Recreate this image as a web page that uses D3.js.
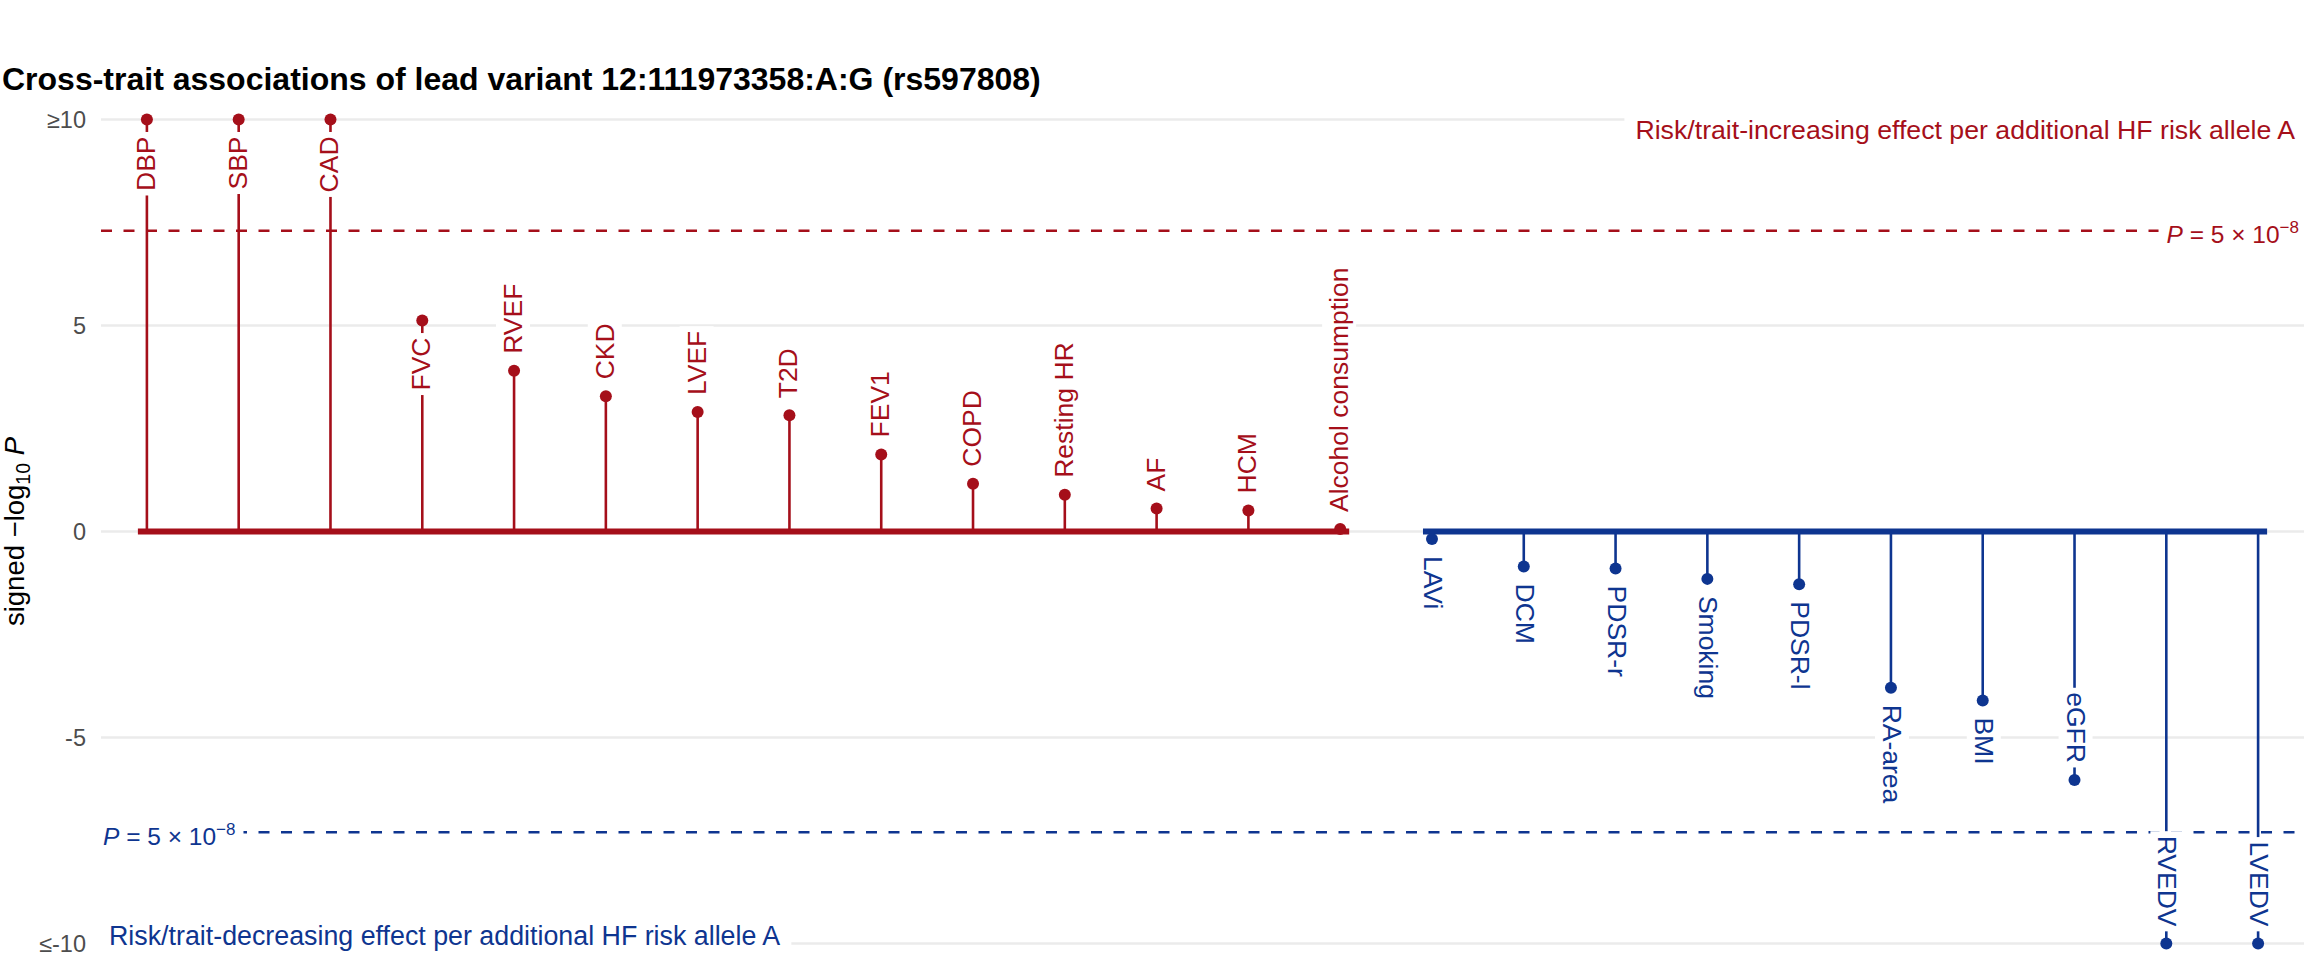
<!DOCTYPE html>
<html>
<head>
<meta charset="utf-8">
<script src="https://cdn.jsdelivr.net/npm/d3@7"></script>
<style>
  html, body { margin: 0; padding: 0; background: #ffffff; }
  svg { display: block; font-family: "Liberation Sans", Arial, Helvetica, sans-serif; }
</style>
</head>
<body>
<svg id="chart" width="2304" height="960"></svg>
<script>
// ---------------- data ----------------
const titleText = "Cross-trait associations of lead variant 12:111973358:A:G (rs597808)";
const categories = ["DBP","SBP","CAD","FVC","RVEF","CKD","LVEF","T2D","FEV1","COPD","Resting HR","AF","HCM","Alcohol consumption",
                    "LAVi","DCM","PDSR-r","Smoking","PDSR-l","RA-area","BMI","eGFR","RVEDV","LVEDV"];
// signed -log10 P, capped at +/-10
const signedLogP = [10, 10, 10, 5.12, 3.9, 3.28, 2.9, 2.82, 1.87, 1.16, 0.89, 0.56, 0.51, 0.06,
                    -0.18, -0.85, -0.9, -1.15, -1.28, -3.79, -4.1, -6.03, -10, -10];
const yTickValues = [-10, -5, 0, 5, 10];
const yTickLabels = ["≤-10", "-5", "0", "5", "≥10"];
const gwsP = 5e-8;
const upText = "Risk/trait-increasing effect per additional HF risk allele A";
const downText = "Risk/trait-decreasing effect per additional HF risk allele A";

// ---------------- setup ----------------
const RED = "#A50F1A", BLUE = "#0E3590";
const W = 2304, H = 960;
const svg = d3.select("#chart");
const panel = {left: 101, right: 2304, top: 103, bottom: 960};

const x = d3.scalePoint().domain(categories).range([panel.left, panel.right]).padding(0.5);
const y = d3.scaleLinear().domain([-10.4, 10.4]).range([panel.bottom, panel.top]);
const thr = -Math.log10(gwsP);
const data = categories.map((c, i) => ({cat: c, v: signedLogP[i]}));
const col = d => d.v >= 0 ? RED : BLUE;

// gridlines
svg.append("g").selectAll("line").data(yTickValues).join("line")
  .attr("x1", panel.left).attr("x2", panel.right)
  .attr("y1", d => y(d)).attr("y2", d => y(d))
  .attr("stroke", "#EBEBEB").attr("stroke-width", 2.4);

// y axis tick labels
const yAxis = d3.axisLeft(y).tickValues(yTickValues)
  .tickFormat((d, i) => yTickLabels[i]).tickSize(0).tickPadding(15);
const ag = svg.append("g").attr("transform", `translate(${panel.left},0)`).call(yAxis);
ag.select(".domain").remove();
ag.selectAll("text").attr("font-size", 23.5).attr("fill", "#4D4D4D")
  .attr("font-family", "Liberation Sans, Arial, sans-serif");

// threshold dashed lines
[[thr, RED], [-thr, BLUE]].forEach(([v, c]) => {
  svg.append("line").attr("x1", panel.left).attr("x2", panel.right)
    .attr("y1", y(v)).attr("y2", y(v))
    .attr("stroke", c).attr("stroke-width", 2.6).attr("stroke-dasharray", "11,11.5");
});

// stems
svg.append("g").selectAll("line").data(data).join("line")
  .attr("x1", d => x(d.cat)).attr("x2", d => x(d.cat))
  .attr("y1", y(0)).attr("y2", d => y(d.v))
  .attr("stroke", col).attr("stroke-width", 2.6);

// base lines (one per sign)
const pos = data.filter(d => d.v >= 0), neg = data.filter(d => d.v < 0);
[[pos, RED], [neg, BLUE]].forEach(([arr, c]) => {
  svg.append("line")
    .attr("x1", x(arr[0].cat) - 9).attr("x2", x(arr[arr.length - 1].cat) + 9)
    .attr("y1", y(0)).attr("y2", y(0))
    .attr("stroke", c).attr("stroke-width", 6);
});

// points
svg.append("g").selectAll("circle").data(data).join("circle")
  .attr("cx", d => x(d.cat)).attr("cy", d => y(d.v)).attr("r", 6)
  .attr("fill", col);

// point labels with white boxes
const off = 17, fs = 26.5;
data.forEach(d => {
  const big = Math.abs(d.v) >= 5;
  let ay, rot, anchor;
  if (d.v >= 0) {
    rot = -90;
    if (big) { ay = y(d.v) + off; anchor = "end"; } else { ay = y(d.v) - off; anchor = "start"; }
  } else {
    rot = 90;
    if (big) { ay = y(d.v) - off; anchor = "end"; } else { ay = y(d.v) + off; anchor = "start"; }
  }
  const g = svg.append("g").attr("transform", `translate(${x(d.cat)},${ay}) rotate(${rot})`);
  const rect = g.append("rect").attr("fill", "#ffffff");
  const t = g.append("text").attr("text-anchor", anchor).attr("dy", "0.3em")
    .attr("font-size", fs).attr("fill", col(d)).text(d.cat);
  const bb = t.node().getBBox();
  rect.attr("x", bb.x - 4.5).attr("y", bb.y - 2).attr("width", bb.width + 9).attr("height", bb.height + 4);
});

// direction annotations
function boxedText(tx, ty, anchor, txt, color, size, padX) {
  const g = svg.append("g");
  const rect = g.append("rect").attr("fill", "#ffffff");
  const t = g.append("text").attr("x", tx).attr("y", ty).attr("text-anchor", anchor)
    .attr("font-size", size).attr("fill", color).text(txt);
  const bb = t.node().getBBox();
  rect.attr("x", bb.x - padX).attr("y", bb.y - 2).attr("width", bb.width + 2 * padX).attr("height", bb.height + 4);
  return t;
}
boxedText(2295, y(10) + 20, "end", upText, RED, 26.7, 11);
boxedText(109, y(-10) + 1, "start", downText, BLUE, 26.8, 11);

// P = 5 x 10^-8 labels
function pLabel(tx, ty, anchor, color) {
  const g = svg.append("g");
  const rect = g.append("rect").attr("fill", "#ffffff");
  const t = g.append("text").attr("x", tx).attr("y", ty).attr("text-anchor", anchor)
    .attr("font-size", 24.5).attr("fill", color);
  t.append("tspan").attr("font-style", "italic").text("P");
  t.append("tspan").text(" = 5 × 10");
  t.append("tspan").attr("dy", -10).attr("font-size", 17).text("−8");
  const bb = t.node().getBBox();
  rect.attr("x", bb.x - 8).attr("y", bb.y).attr("width", bb.width + 16).attr("height", bb.height);
}
pLabel(2299, y(thr) + 12, "end", RED);
pLabel(103, y(-thr) + 13, "start", BLUE);

// y axis title
const yt = svg.append("text").attr("transform", `translate(24,${(panel.top + panel.bottom) / 2}) rotate(-90)`)
  .attr("text-anchor", "middle").attr("font-size", 27.5).attr("fill", "#000000");
yt.append("tspan").text("signed  −log");
yt.append("tspan").attr("font-size", 19.5).attr("dy", 6).text("10");
yt.append("tspan").attr("dy", -6).text(" ");
yt.append("tspan").attr("font-style", "italic").text("P");

// title
svg.append("text").attr("x", 2).attr("y", 90).attr("font-size", 32).attr("font-weight", "bold")
  .attr("fill", "#000000").text(titleText);
</script>
</body>
</html>
